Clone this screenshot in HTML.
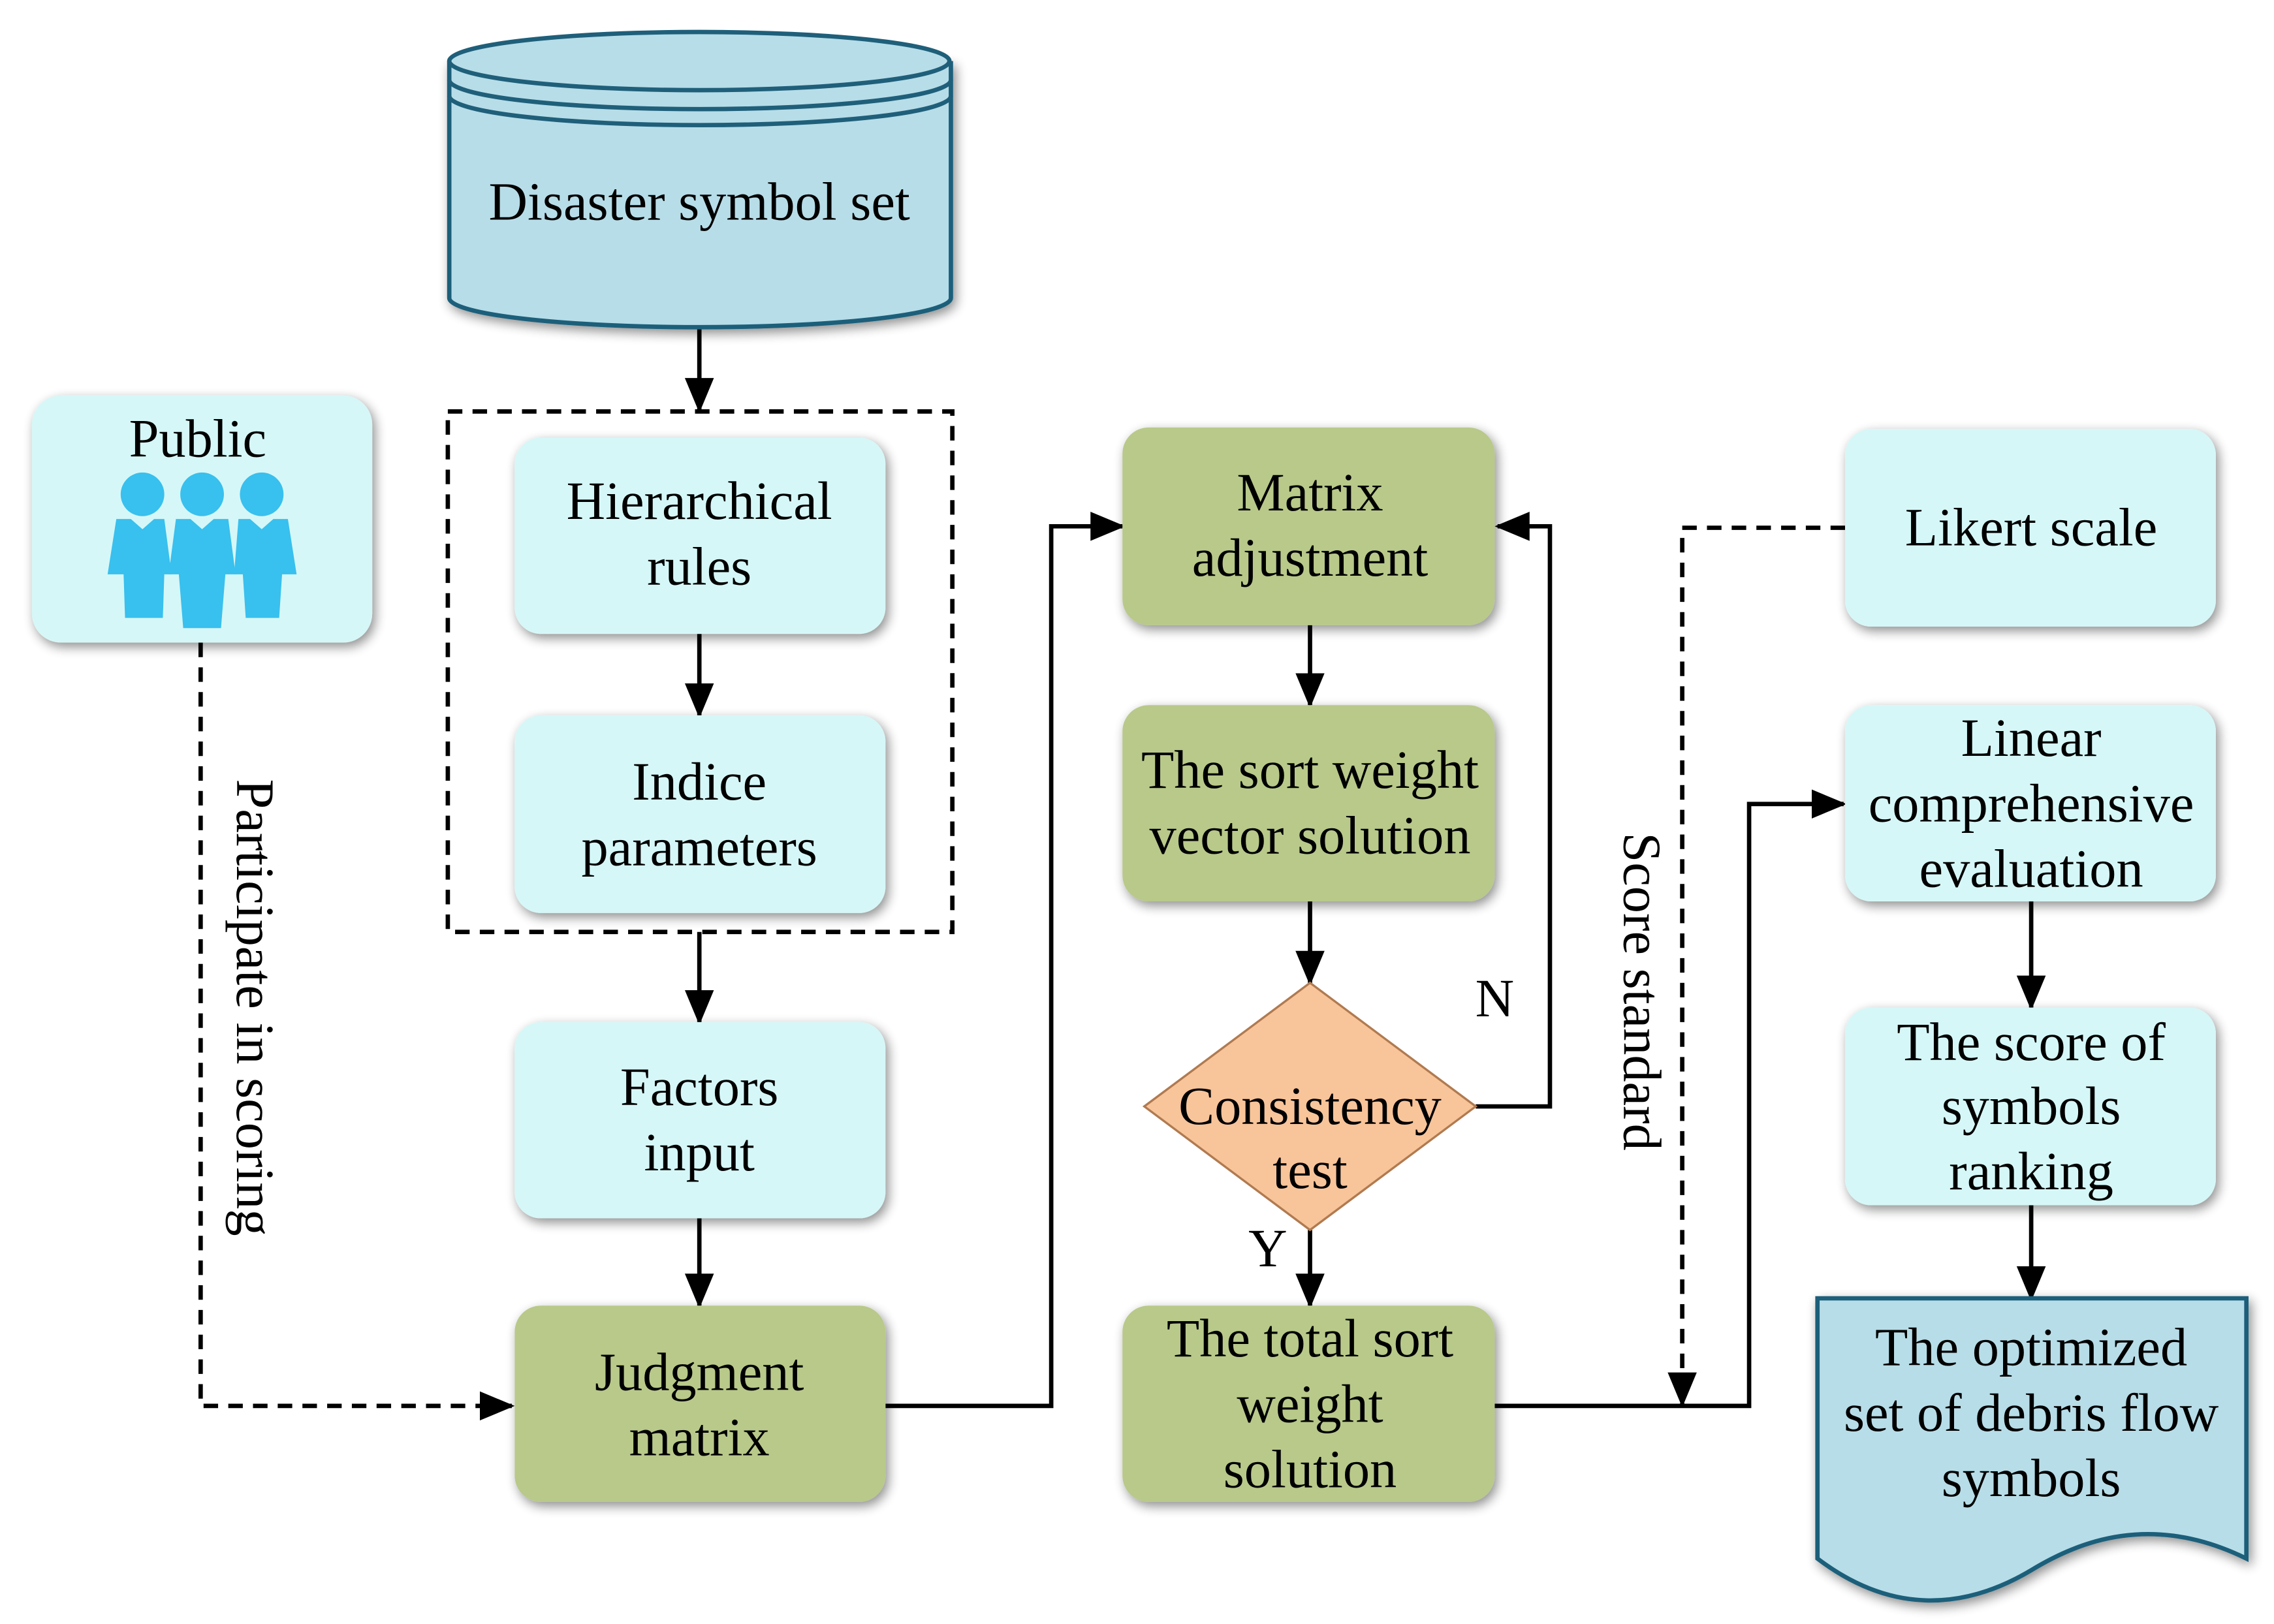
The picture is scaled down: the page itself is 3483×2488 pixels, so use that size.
<!DOCTYPE html>
<html><head><meta charset="utf-8"><style>
html,body{margin:0;padding:0;background:#fff}
svg{display:block}
text{font-family:"Liberation Serif",serif;font-size:37px;fill:#000}
</style></head><body>
<svg width="3483" height="2488" viewBox="0 0 1564 1117" preserveAspectRatio="none">
<defs>
<marker id="ahb" markerWidth="24" markerHeight="24" refX="22" refY="12" orient="auto" markerUnits="userSpaceOnUse" viewBox="0 0 24 24"><path d="M0,2 L24,12 L0,22 z" fill="#000"/></marker>
<filter id="sh" x="-20%" y="-20%" width="140%" height="140%"><feGaussianBlur in="SourceAlpha" stdDeviation="4"/><feOffset dx="2" dy="3"/><feComponentTransfer><feFuncA type="linear" slope="0.45"/></feComponentTransfer><feMerge><feMergeNode/><feMergeNode in="SourceGraphic"/></feMerge></filter>
</defs>
<g stroke="#000" stroke-width="3" fill="none">
<line x1="481" y1="225" x2="481" y2="282" marker-end="url(#ahb)"/>
<line x1="481" y1="436" x2="481" y2="492" marker-end="url(#ahb)"/>
<line x1="481" y1="641" x2="481" y2="703" marker-end="url(#ahb)"/>
<line x1="481" y1="838" x2="481" y2="898" marker-end="url(#ahb)"/>
<polyline points="609,967 723,967 723,362 772,362" marker-end="url(#ahb)"/>
<line x1="901" y1="430" x2="901" y2="485" marker-end="url(#ahb)"/>
<line x1="901" y1="620" x2="901" y2="676" marker-end="url(#ahb)"/>
<polyline points="1015,761 1066,761 1066,362 1030,362" marker-end="url(#ahb)"/>
<line x1="901" y1="846" x2="901" y2="898" marker-end="url(#ahb)"/>
<polyline points="1028,967 1203,967 1203,553 1268,553" marker-end="url(#ahb)"/>
<line x1="1397" y1="620" x2="1397" y2="693" marker-end="url(#ahb)"/>
<line x1="1397" y1="829" x2="1397" y2="893" marker-end="url(#ahb)"/>
<g stroke-dasharray="10,7">
<rect x="308" y="283" width="347" height="358"/>
<polyline points="138,442 138,967 352,967" marker-end="url(#ahb)"/>
<polyline points="1269,363 1157,363 1157,966" marker-end="url(#ahb)"/>
</g>
</g>
<g stroke="#1f5f7a" stroke-width="3" fill="#b7dde8">
<path d="M309,42 L309,205 A172,20 0 0 0 654,205 L654,42" filter="url(#sh)"/>
<ellipse cx="481" cy="42" rx="172" ry="20"/>
<path d="M309,55 A172,20 0 0 0 654,55" fill="none"/>
<path d="M309,66 A172,20 0 0 0 654,66" fill="none"/>
</g>
<text x="481" y="151" text-anchor="middle">Disaster symbol set</text>
<g filter="url(#sh)">
<rect x="22" y="272" width="234" height="170" rx="20" fill="#d6f7f7"/>
<rect x="354" y="301" width="255" height="135" rx="18" fill="#d6f7f7"/>
<rect x="354" y="492" width="255" height="136" rx="18" fill="#d6f7f7"/>
<rect x="354" y="703" width="255" height="135" rx="18" fill="#d6f7f7"/>
<rect x="354" y="898" width="255" height="135" rx="18" fill="#b8c98a"/>
<rect x="772" y="294" width="256" height="136" rx="18" fill="#b8c98a"/>
<rect x="772" y="485" width="256" height="135" rx="18" fill="#b8c98a"/>
<rect x="772" y="898" width="256" height="135" rx="18" fill="#b8c98a"/>
<rect x="1269" y="295" width="255" height="136" rx="18" fill="#d6f7f7"/>
<rect x="1269" y="485" width="255" height="135" rx="18" fill="#d6f7f7"/>
<rect x="1269" y="693" width="255" height="136" rx="18" fill="#d6f7f7"/>
</g>
<polygon points="901,676 1015,761 901,846 787,761" fill="#f8c49a" stroke="#b07a50" stroke-width="1.5"/>
<path d="M1250,893 L1545,893 L1545,1072 C1480,1040 1430,1060 1397,1080 C1350,1108 1300,1110 1250,1072 Z" fill="#b7dde8" stroke="#1f5f7a" stroke-width="3" filter="url(#sh)"/>
<g fill="#38c0ee">
<circle cx="98" cy="340" r="15"/><circle cx="139" cy="340" r="15"/><circle cx="180" cy="340" r="15"/>
<path d="M80,357 L90,357 L98,364 L106,357 L113,357 L118,395 L113,395 L112,425 L86,425 L85,395 L74,395 Z"/>
<path d="M164,357 L172,357 L180,364 L188,357 L198,357 L204,395 L194,395 L192,425 L169,425 L167,395 L161,395 Z"/>
<path d="M121,357 L131,357 L139,364 L147,357 L157,357 L162,395 L155,395 L152,432 L126,432 L123,395 L116,395 Z"/>
</g>
<g text-anchor="middle">
<text x="136" y="314">Public</text>
<text x="481" y="357"><tspan x="481">Hierarchical</tspan><tspan x="481" dy="45">rules</tspan></text>
<text x="481" y="550"><tspan x="481">Indice</tspan><tspan x="481" dy="45">parameters</tspan></text>
<text x="481" y="760"><tspan x="481">Factors</tspan><tspan x="481" dy="45">input</tspan></text>
<text x="481" y="956"><tspan x="481">Judgment</tspan><tspan x="481" dy="45">matrix</tspan></text>
<text x="901" y="351"><tspan x="901">Matrix</tspan><tspan x="901" dy="45">adjustment</tspan></text>
<text x="901" y="542"><tspan x="901">The sort weight</tspan><tspan x="901" dy="45">vector solution</tspan></text>
<text x="901" y="773"><tspan x="901">Consistency</tspan><tspan x="901" dy="44">test</tspan></text>
<text x="901" y="933"><tspan x="901">The total sort</tspan><tspan x="901" dy="45">weight</tspan><tspan x="901" dy="45">solution</tspan></text>
<text x="1397" y="375">Likert scale</text>
<text x="1397" y="520"><tspan x="1397">Linear</tspan><tspan x="1397" dy="45">comprehensive</tspan><tspan x="1397" dy="45">evaluation</tspan></text>
<text x="1397" y="729"><tspan x="1397">The score of</tspan><tspan x="1397" dy="44">symbols</tspan><tspan x="1397" dy="45">ranking</tspan></text>
<text x="1397" y="939"><tspan x="1397">The optimized</tspan><tspan x="1397" dy="45">set of debris flow</tspan><tspan x="1397" dy="45">symbols</tspan></text>
<text x="1028" y="699">N</text>
<text x="872" y="871">Y</text>
<text transform="translate(163,693) rotate(90)">Participate in scoring</text>
<text transform="translate(1117,682) rotate(90)">Score standard</text>
</g>
</svg>
</body></html>
